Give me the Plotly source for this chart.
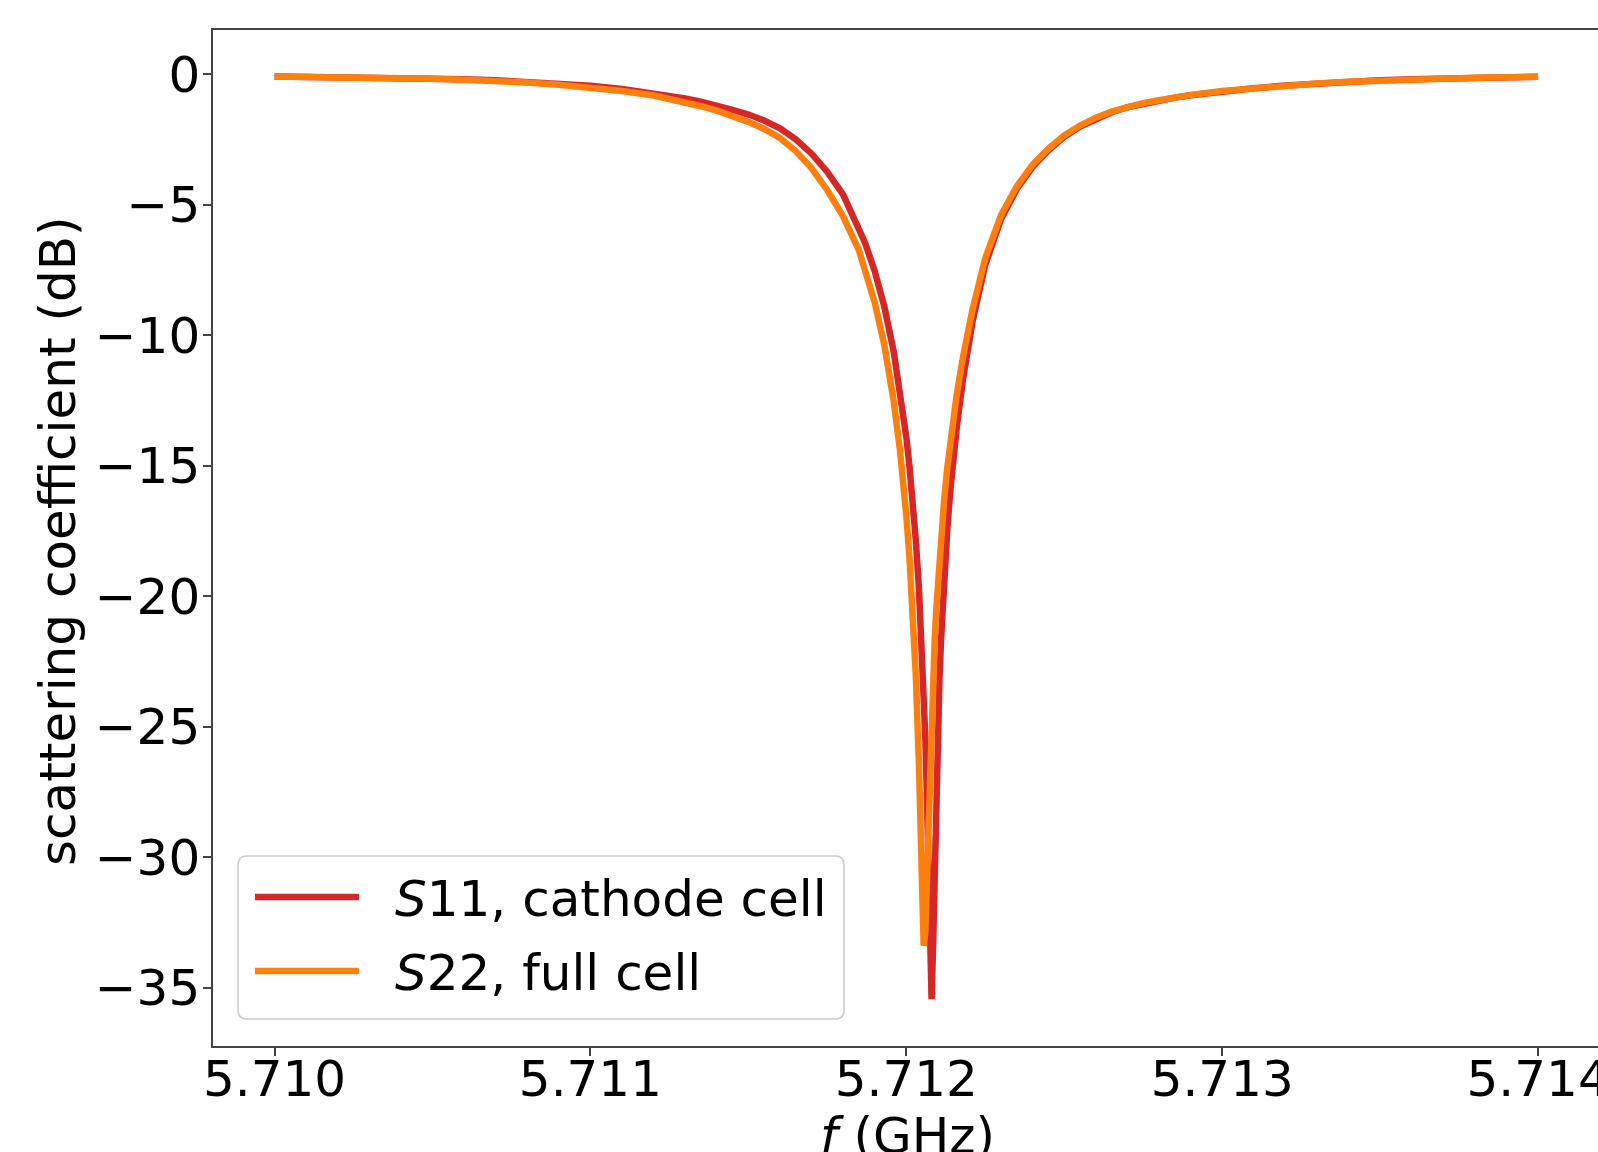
import plotly.graph_objects as go

# ---- data ----
freq_ghz = [
    5.7100, 5.7101, 5.7102, 5.7103, 5.7104, 5.7105, 5.7106, 5.7107, 5.7108, 5.7109,
    5.7110, 5.7111, 5.7112, 5.71125, 5.7113, 5.71135, 5.7114, 5.71145, 5.7115, 5.71155,
    5.7116, 5.71165, 5.7117, 5.71175, 5.7118, 5.71185, 5.71187, 5.7119, 5.71193, 5.71196,
    5.71198, 5.71199, 5.71200, 5.71201, 5.71202, 5.71203, 5.71204, 5.71205, 5.712055, 5.71206,
    5.712065, 5.71207, 5.712075, 5.71208, 5.712085, 5.71209, 5.712095, 5.7121, 5.712105, 5.71211,
    5.71212, 5.71213, 5.71214, 5.71215, 5.71216, 5.71218, 5.71221, 5.71225, 5.7123, 5.71235,
    5.7124, 5.71245, 5.7125, 5.71255, 5.7126, 5.71265, 5.7127, 5.71275, 5.7128, 5.71285,
    5.7129, 5.7130, 5.7131, 5.7132, 5.7133, 5.7134, 5.7135, 5.7136, 5.7137, 5.7138,
    5.7139, 5.7140]

s11_cathode_db = [
    -0.09, -0.10, -0.11, -0.125, -0.14, -0.165, -0.195, -0.235, -0.29, -0.36,
    -0.45, -0.57, -0.72, -0.82, -0.93, -1.06, -1.20, -1.37, -1.55, -1.78,
    -2.08, -2.50, -3.05, -3.75, -4.62, -5.85, -6.48, -7.55, -8.89, -10.62,
    -12.08, -12.94, -13.91, -15.02, -16.31, -17.84, -19.71, -22.10, -23.59, -25.37,
    -27.53, -30.26, -33.48, -35.45, -33.30, -29.93, -27.15, -24.95, -23.16, -21.67,
    -19.27, -17.39, -15.87, -14.58, -13.50, -11.65, -9.45, -7.30, -5.55, -4.40,
    -3.55, -2.92, -2.40, -2.01, -1.70, -1.46, -1.27, -1.13, -1.01, -0.90,
    -0.81, -0.66, -0.54, -0.44, -0.36, -0.29, -0.24, -0.20, -0.16, -0.14,
    -0.12, -0.10]

s22_full_db = [
    -0.09, -0.10, -0.115, -0.13, -0.15, -0.18, -0.22, -0.26, -0.32, -0.41,
    -0.52, -0.65, -0.82, -0.94, -1.08, -1.23, -1.40, -1.60, -1.83, -2.10,
    -2.45, -2.95, -3.60, -4.45, -5.45, -6.75, -7.50, -8.75, -10.36, -12.52,
    -14.42, -15.57, -16.91, -18.52, -20.49, -23.02, -26.46, -31.17, -33.40, -32.92,
    -30.77, -28.35, -26.24, -24.45, -22.93, -21.62, -20.47, -19.46, -18.55, -17.72,
    -16.28, -15.06, -14.00, -13.07, -12.25, -10.80, -9.00, -7.05, -5.40, -4.30,
    -3.47, -2.86, -2.35, -1.97, -1.67, -1.44, -1.25, -1.11, -1.00, -0.89,
    -0.80, -0.65, -0.54, -0.44, -0.36, -0.29, -0.24, -0.20, -0.16, -0.14,
    -0.12, -0.10]

series_names = ["<i>S</i>11, cathode cell", "<i>S</i>22, full cell"]
series_colors = ["#d62728", "#ff7f0e"]

x_tickvals = [5.710, 5.711, 5.712, 5.713, 5.714]
x_ticktext = ["5.710", "5.711", "5.712", "5.713", "5.714"]
y_tickvals = [0, -5, -10, -15, -20, -25, -30, -35]
y_ticktext = ["0", "\u22125", "\u221210", "\u221215", "\u221220", "\u221225", "\u221230", "\u221235"]

# ---- layout geometry ----
W, H = 1598, 1152
L, R, T, B = 213, 0, 30, 106
PW, PH = W - L - R, H - T - B


def px(xp):
    return (xp - L) / PW


def py(yp):
    return (H - B - yp) / PH


FONT = "DejaVu Sans, Verdana, sans-serif"
FS = 50
LW = 6.5

fig = go.Figure()
for ys, name, col in zip([s11_cathode_db, s22_full_db], series_names, series_colors):
    fig.add_trace(go.Scatter(x=freq_ghz, y=ys, mode="lines", name=name,
                             line=dict(color=col, width=LW), showlegend=False))

axis_common = dict(showgrid=False, zeroline=False, showline=True, linecolor="#444",
                   linewidth=1.5, ticks="outside", ticklen=8, tickwidth=1.5, tickcolor="#444",
                   tickfont=dict(family=FONT, size=FS, color="black"),
                   ticklabeloverflow="allow", automargin=False)

fig.update_xaxes(range=[5.7098053, 5.7141896], tickvals=x_tickvals, ticktext=x_ticktext,
                 mirror=True, ticklabelstandoff=-20, **axis_common)
fig.update_yaxes(range=[-37.24, 1.69], tickvals=y_tickvals, ticktext=y_ticktext,
                 mirror=False, ticklabelstandoff=-7, **axis_common)

# axis titles
annotations = [
    dict(text="scattering coefficient (dB)", x=px(58), y=py(541), xref="paper", yref="paper",
         textangle=-90, showarrow=False, font=dict(family=FONT, size=FS, color="black"),
         xanchor="center", yanchor="middle"),
    dict(text="<i>f</i> (GHz)", x=px(907), y=py(1136), xref="paper", yref="paper",
         showarrow=False, font=dict(family=FONT, size=FS, color="black"),
         xanchor="center", yanchor="middle"),
]

# custom legend (matplotlib-like)
bx0, bx1, by0, by1, rr = 238, 844, 856, 1019, 9
X0, X1 = px(bx0), px(bx1)
Y0, Y1 = py(by1), py(by0)
rx, ry = rr / PW, rr / PH
box_path = (f"M{X0+rx},{Y1} L{X1-rx},{Y1} Q{X1},{Y1} {X1},{Y1-ry} "
            f"L{X1},{Y0+ry} Q{X1},{Y0} {X1-rx},{Y0} L{X0+rx},{Y0} "
            f"Q{X0},{Y0} {X0},{Y0+ry} L{X0},{Y1-ry} Q{X0},{Y1} {X0+rx},{Y1} Z")
shapes = [dict(type="path", path=box_path, xref="paper", yref="paper",
               line=dict(color="#cccccc", width=1.5), fillcolor="rgba(255,255,255,0.8)",
               layer="above")]
for i, (name, col) in enumerate(zip(series_names, series_colors)):
    yy = 897 + i * 74
    shapes.append(dict(type="line", xref="paper", yref="paper", x0=px(255), x1=px(359),
                       y0=py(yy), y1=py(yy), line=dict(color=col, width=LW), layer="above"))
    annotations.append(dict(text=name, x=px(393), y=py(yy + 2), xref="paper", yref="paper",
                            showarrow=False, xanchor="left", yanchor="middle",
                            font=dict(family=FONT, size=FS, color="black")))

fig.update_layout(width=W, height=H, margin=dict(l=L, r=R, t=T, b=B, pad=0, autoexpand=False),
                  paper_bgcolor="white", plot_bgcolor="white",
                  annotations=annotations, shapes=shapes, showlegend=False)

fig.write_html("out.html", config={"displayModeBar": False},
               post_script="document.body.style.margin='0';"
                           "document.body.style.overflow='hidden';")
